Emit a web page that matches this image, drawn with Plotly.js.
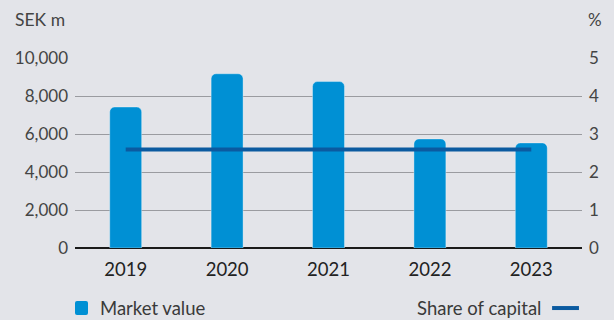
<!DOCTYPE html>
<html>
<head>
<meta charset="utf-8">
<script src="https://cdn.plot.ly/plotly-3.0.1.min.js"></script>
<style>
html,body{margin:0;padding:0;background:#e3e4e9;}
#chart{width:614px;height:320px;}
</style>
</head>
<body>
<div id="chart"></div>
<script>
const years = ["2019", "2020", "2021", "2022", "2023"];
const marketValue = [7420, 9170, 8760, 5740, 5530];
const shareOfCapital = [2.59, 2.59, 2.59, 2.59, 2.59];
const leftTicks = [0, 2000, 4000, 6000, 8000, 10000];
const leftTickText = ["0", "2,000", "4,000", "6,000", "8,000", "10,000"];
const rightTicks = [0, 1, 2, 3, 4, 5];
const rightTickText = ["0", "1", "2", "3", "4", "5"];

const FONT = "Lato, 'Open Sans', sans-serif";
const bg = "#e3e4e9";

const traces = [
  {
    type: "bar", x: years, y: marketValue, name: "Market value",
    marker: {color: "#0090d4", cornerradius: 5, line: {color: "rgba(255,255,255,0.35)", width: 1}},
    width: 0.315, showlegend: false, hoverinfo: "skip"
  },
  {
    type: "scatter", mode: "lines", x: years, y: shareOfCapital, yaxis: "y2", name: "Share of capital",
    line: {color: "#0b5aa0", width: 4}, showlegend: false, hoverinfo: "skip"
  }
];

const layout = {
  width: 614, height: 320,
  margin: {l: 75, r: 32, t: 58, b: 72},
  paper_bgcolor: bg, plot_bgcolor: bg,
  font: {family: FONT, color: "#3a3a3a", size: 17},
  xaxis: {
    type: "category", range: [-0.5, 4.5], showgrid: false, zeroline: false,
    showline: false, ticks: "", tickfont: {size: 18.5, color: "#222"},
    ticklabelstandoff: 8
  },
  yaxis: {
    range: [0, 10000], tickvals: leftTicks, ticktext: leftTickText,
    showgrid: true, gridcolor: "#9a9ba0", gridwidth: 1,
    zeroline: true, zerolinecolor: "#1a1a1a", zerolinewidth: 2.5,
    ticks: "", tickfont: {size: 17, color: "#444"}, ticklabelstandoff: 6,
    fixedrange: true
  },
  yaxis2: {
    overlaying: "y", side: "right", range: [0, 5], tickvals: rightTicks, ticktext: rightTickText,
    showgrid: false, zeroline: false, ticks: "", tickfont: {size: 17, color: "#444"},
    ticklabelstandoff: 6
  },
  annotations: [
    {text: "SEK m", xref: "paper", yref: "paper", x: -0.122, y: 1.205, xanchor: "left", yanchor: "middle",
     showarrow: false, font: {size: 17.5, color: "#444"}},
    {text: "%", xref: "paper", yref: "paper", x: 1.043, y: 1.205, xanchor: "right", yanchor: "middle",
     showarrow: false, font: {size: 17, color: "#444"}},
    {text: "Market value", xref: "paper", yref: "paper", x: 0.045, y: -0.316, xanchor: "left", yanchor: "middle",
     showarrow: false, font: {size: 18.5, color: "#3a3a3a"}},
    {text: "Share of capital", xref: "paper", yref: "paper", x: 0.923, y: -0.316, xanchor: "right", yanchor: "middle",
     showarrow: false, font: {size: 18.5, color: "#3a3a3a"}}
  ],
  shapes: [
    {type: "path", xref: "paper", yref: "paper", xsizemode: "pixel", ysizemode: "pixel",
     xanchor: 0, yanchor: -0.316,
     path: "M 2 -7 H 11 Q 13 -7 13 -5 V 5 Q 13 7 11 7 H 2 Q 0 7 0 5 V -5 Q 0 -7 2 -7 Z",
     fillcolor: "#0090d4", line: {width: 0}},
    {type: "line", xref: "paper", yref: "paper", x0: 0.941, x1: 0.994, y0: -0.316, y1: -0.316,
     line: {color: "#0b5aa0", width: 4}}
  ],
  showlegend: false
};

Plotly.newPlot("chart", traces, layout, {staticPlot: true, displayModeBar: false});
</script>
</body>
</html>
